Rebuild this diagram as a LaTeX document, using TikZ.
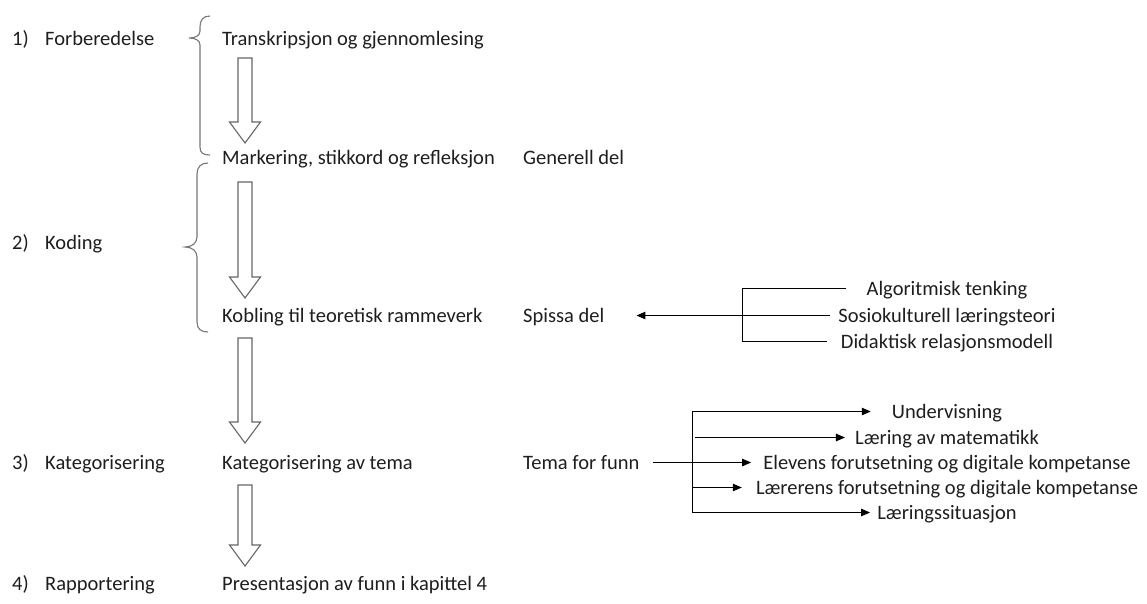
\documentclass[tikz,border=0pt]{standalone}
\usepackage{fontspec}
\setmainfont{Carlito}
\usetikzlibrary{arrows.meta,calc}
\definecolor{txtc}{HTML}{1E1E1E}
\definecolor{arrc}{HTML}{666666}
\definecolor{bracec}{HTML}{777777}
\newcommand{\hollowarrow}[2]{%
  \draw[harr] let \p1=(#1),\p2=(#2) in
    (\x1-7pt,\y1) -- (\x1+7pt,\y1) -- (\x1+7pt,\y2+21pt) -- (\x1+15.5pt,\y2+21pt)
    -- (\x1,\y2) -- (\x1-15.5pt,\y2+21pt) -- (\x1-7pt,\y2+21pt) -- cycle;}
\begin{document}
\begin{tikzpicture}[x=1pt,y=-1pt,
  txt/.style={anchor=base west,inner sep=0pt,text height=13pt,text depth=0pt,
    font=\fontsize{20.5}{24}\selectfont,text=txtc},
  ctxt/.style={anchor=base,inner sep=0pt,text height=13pt,text depth=0pt,
    font=\fontsize{20.5}{24}\selectfont,text=txtc},
  brace/.style={draw=bracec,line width=1.1pt},
  harr/.style={draw=arrc,line width=1.1pt,line join=miter},
  conn/.style={draw=black,line width=1pt},
  tipped/.style={-{Triangle[length=9pt,width=7.5pt]}}
]
\useasboundingbox[fill=white] (0,0) rectangle (1147,603);

% left column
\node[txt] (n1) at (12,45) {1)};
\node[txt] (l1) at (45,45) {Forberedelse};
\node[txt] (n2) at (12,249) {2)};
\node[txt] (l2) at (45,249) {Koding};
\node[txt] (n3) at (12,469) {3)};
\node[txt] (l3) at (45,469) {Kategorisering};
\node[txt] (n4) at (12,590) {4)};
\node[txt] (l4) at (45,590) {Rapportering};

% middle column
\node[txt] (s1) at (222,45) {Transkripsjon og gjennomlesing};
\node[txt] (s2) at (222,164) {Markering, stikkord og refleksjon};
\node[txt] (s3) at (222,322) {Kobling til teoretisk rammeverk};
\node[txt] (s4) at (222,469) {Kategorisering av tema};
\node[txt] (s5) at (222,590) {Presentasjon av funn i kapittel 4};

% third column
\node[txt] (g)  at (523,164) {Generell del};
\node[txt] (sp) at (523,322) {Spissa del};
\node[txt] (tf) at (523,469) {Tema for funn};

% right top
\node[ctxt] (t1) at (947,295) {Algoritmisk tenking};
\node[ctxt] (t2) at (947,322) {Sosiokulturell læringsteori};
\node[ctxt] (t3) at (947,348) {Didaktisk relasjonsmodell};

% right bottom
\node[ctxt] (u1) at (947,418) {Undervisning};
\node[ctxt] (u2) at (947,444) {Læring av matematikk};
\node[ctxt] (u3) at (947,469) {Elevens forutsetning og digitale kompetanse};
\node[ctxt] (u4) at (947,494) {Lærerens forutsetning og digitale kompetanse};
\node[ctxt] (u5) at (947,519) {Læringssituasjon};

% braces
\draw[brace] (210,16) .. controls (203,16) and (200,20) .. (200,27) -- (200,31)
  .. controls (200,36) and (195,38) .. (189,38)
  .. controls (195,38) and (200,40) .. (200,45) -- (200,147)
  .. controls (200,153) and (203,155) .. (210,155);
\draw[brace] (208,163) .. controls (201,163) and (197,167) .. (197,174) -- (197,237)
  .. controls (197,243) and (192,247) .. (185,247)
  .. controls (192,247) and (197,251) .. (197,257) -- (197,322)
  .. controls (197,329) and (201,332) .. (208,332);

% hollow arrows
\coordinate (a1s) at (245,58);  \coordinate (a1e) at (245,143);
\coordinate (a2s) at (245,182); \coordinate (a2e) at (245,298);
\coordinate (a3s) at (245,338); \coordinate (a3e) at (245,443);
\coordinate (a4s) at (245,485); \coordinate (a4e) at (245,566);
\hollowarrow{a1s}{a1e}
\hollowarrow{a2s}{a2e}
\hollowarrow{a3s}{a3e}
\hollowarrow{a4s}{a4e}

% top right connectors
\coordinate (vb) at (742,315);
\draw[conn] ([xshift=-20pt]t1.west) -| (vb |- t3.west) -- ([xshift=-14pt]t3.west);
\draw[conn,tipped,shorten <=8pt,shorten >=32pt] (t2.west) -- (sp.east);

% bottom right connectors
\coordinate (lb) at (692,463);
\draw[conn] (lb |- u1.west) -- (lb |- u5.west);
\draw[conn,tipped,shorten >=21pt] (lb |- u1.west) -- (u1.west);
\draw[conn,tipped,shorten <=3pt,shorten >=10pt] (lb |- u2.west) -- (u2.west);
\draw[conn,tipped,shorten <=13pt,shorten >=12pt] (tf.east) -- (u3.west);
\draw[conn,tipped,shorten >=14pt] (lb |- u4.west) -- (u4.west);
\draw[conn,tipped,shorten >=7pt] (lb |- u5.west) -- (u5.west);
\end{tikzpicture}
\end{document}
